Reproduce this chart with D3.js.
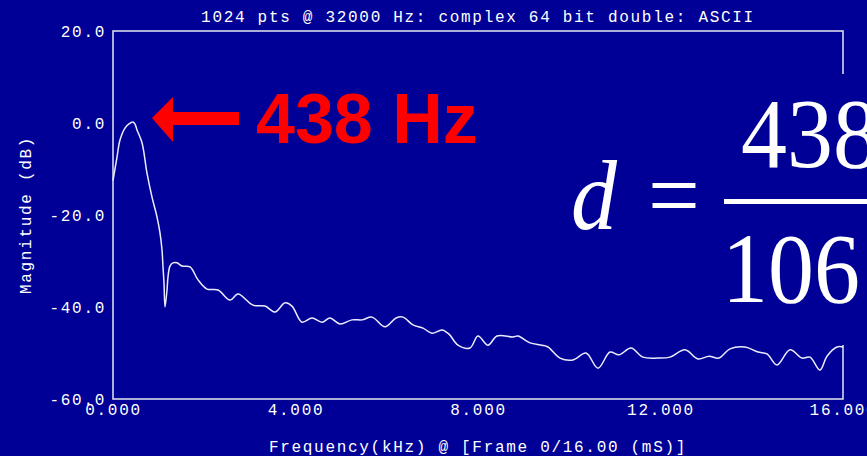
<!DOCTYPE html>
<html>
<head>
<meta charset="utf-8">
<script src="https://cdn.jsdelivr.net/npm/d3@7"></script>
<style>
  html, body { margin: 0; padding: 0; background: #000096; overflow: hidden; }
  svg { display: block; }
  .mono { font-family: "Liberation Mono", "DejaVu Sans Mono", monospace; font-size: 16px; letter-spacing: 1.7px; fill: #ffffff; }
</style>
</head>
<body>
<svg id="chart" width="867" height="456"></svg>
<script>
// Spectrum: frequency (kHz) and magnitude (dB)
const freqKHz = [0.0, 0.088, 0.153, 0.263, 0.35, 0.438, 0.48, 0.526, 0.636, 0.745, 0.855, 0.964, 1.03, 1.074, 1.096, 1.118, 1.14, 1.184, 1.205, 1.249, 1.315, 1.403, 1.512, 1.688, 1.863, 2.06, 2.301, 2.564, 2.74, 3.068, 3.332, 3.551, 3.77, 3.923, 4.142, 4.362, 4.581, 4.756, 4.975, 5.238, 5.458, 5.677, 5.962, 6.203, 6.356, 6.575, 6.795, 6.992, 7.211, 7.364, 7.562, 7.825, 8.0, 8.219, 8.416, 8.767, 8.877, 9.14, 9.403, 9.534, 9.797, 10.082, 10.367, 10.63, 10.893, 11.09, 11.353, 11.616, 11.945, 12.208, 12.537, 12.822, 13.063, 13.282, 13.523, 13.852, 14.137, 14.334, 14.553, 14.838, 15.101, 15.277, 15.496, 15.649, 15.868, 16.0];
const magDB = [-12.5, -7.4, -3.7, -1.1, -0.2, 0.2, -0.2, -1.5, -4.3, -10.9, -16.1, -20.4, -23.9, -27.6, -31.3, -34.8, -40.0, -36.3, -33.5, -31.1, -30.4, -30.4, -31.1, -31.3, -34.1, -36.1, -36.3, -38.5, -37.2, -39.6, -39.8, -41.1, -39.1, -39.8, -43.3, -42.4, -43.3, -42.4, -43.7, -42.8, -42.8, -42.2, -44.3, -42.4, -42.2, -43.9, -44.6, -45.7, -45.0, -45.9, -48.3, -48.9, -46.3, -48.3, -46.3, -46.5, -46.3, -47.8, -48.3, -48.7, -51.1, -51.5, -50.0, -53.3, -49.8, -50.4, -48.9, -50.9, -51.1, -50.9, -49.3, -51.3, -50.7, -51.1, -49.1, -48.7, -49.8, -50.2, -52.6, -49.3, -51.1, -50.9, -53.7, -50.7, -48.7, -48.7];

// Axis ticks
const xTicks = [0, 4, 8, 12, 16];
const yTicks = [-60, -40, -20, 0, 20];

// Text
const titleText = "1024 pts @ 32000 Hz: complex 64 bit double: ASCII";
const xLabelText = "Frequency(kHz) @ [Frame 0/16.00 (mS)]";
const yLabelText = "Magnitude (dB)";
const peakLabel = "438 Hz";
const peakHz = 438;
const fracNumerator = "438";
const fracDenominator = "106";

const bg = "#000096";
const svg = d3.select("#chart");
const margin = { left: 113, top: 31, right: 24, bottom: 57 };
const W = 867, H = 456;

const x = d3.scaleLinear().domain([0, 16]).range([margin.left, W - margin.right]);
const y = d3.scaleLinear().domain([-60, 20]).range([H - margin.bottom, margin.top]);

svg.append("rect").attr("width", W).attr("height", H).attr("fill", bg);

// Plot frame
svg.append("rect")
  .attr("x", x(0)).attr("y", y(20))
  .attr("width", x(16) - x(0)).attr("height", y(-60) - y(20))
  .attr("fill", "none").attr("stroke", "#e6e6f0").attr("stroke-width", 1.5);

// Axes (labels only)
const xAxis = svg.append("g")
  .attr("transform", `translate(0,${y(-60)})`)
  .call(d3.axisBottom(x).tickValues(xTicks).tickSize(0).tickPadding(5).tickFormat(d => d.toFixed(3)));
const yAxis = svg.append("g")
  .attr("transform", `translate(${x(0) - 7},0)`)
  .call(d3.axisLeft(y).tickValues(yTicks).tickSize(0).tickPadding(0).tickFormat(d => d.toFixed(1)));
[xAxis, yAxis].forEach(g => {
  g.select(".domain").remove();
  g.selectAll("text").attr("class", "mono").attr("fill", "#fff");
  g.attr("font-family", null).attr("font-size", null);
});

// Spectrum line
const pts = d3.zip(freqKHz, magDB);
svg.append("path")
  .datum(pts)
  .attr("fill", "none")
  .attr("stroke", "#ececff")
  .attr("stroke-width", 1.5)
  .attr("d", d3.line().x(d => x(d[0])).y(d => y(d[1])).curve(d3.curveCatmullRom.alpha(0.5)));

// Titles
svg.append("text").attr("class", "mono")
  .attr("x", (x(0) + x(16)) / 2).attr("y", 22).attr("text-anchor", "middle").text(titleText);
svg.append("text").attr("class", "mono")
  .attr("x", (x(0) + x(16)) / 2).attr("y", 452).attr("text-anchor", "middle").text(xLabelText);
svg.append("text").attr("class", "mono")
  .attr("transform", `translate(31,${(y(20) + y(-60)) / 2}) rotate(-90)`)
  .attr("text-anchor", "middle").text(yLabelText);

// Peak annotation: arrow pointing at the peak, then the label
const peakX = x(peakHz / 1000);
const tipX = peakX + 19, tipY = y(0) - 5;
svg.append("path")
  .attr("fill", "#ff0000")
  .attr("d", `M${tipX},${tipY} L${tipX + 21},${tipY - 21} L${tipX + 21},${tipY - 6} L${tipX + 87},${tipY - 6}
              L${tipX + 87},${tipY + 7} L${tipX + 21},${tipY + 7} L${tipX + 21},${tipY + 24} Z`);
svg.append("text")
  .attr("x", 256).attr("y", 143)
  .attr("fill", "#ff0000")
  .style("font-family", "'Liberation Sans', Arial, sans-serif")
  .style("font-weight", "bold").style("font-size", "70px")
  .text(peakLabel);

// Formula panel
const f = svg.append("g");
f.append("rect").attr("x", 548).attr("y", 74).attr("width", 330).attr("height", 271).attr("fill", bg);
const serif = "'Liberation Serif', 'Times New Roman', serif";
f.append("text")
  .attr("transform", "translate(571,229) scale(0.92,1)")
  .attr("fill", "#fff").style("font-family", serif).style("font-style", "italic").style("font-size", "100px")
  .text("d");
f.append("text")
  .attr("transform", "translate(648,229) scale(0.92,1)")
  .attr("fill", "#fff").style("font-family", serif).style("font-size", "100px")
  .text("=");
f.append("rect").attr("x", 724).attr("y", 199).attr("width", 150).attr("height", 5).attr("fill", "#fff");
f.append("text")
  .attr("transform", "translate(741,167) scale(0.92,1)")
  .attr("fill", "#fff").style("font-family", serif).style("font-size", "100px")
  .text(fracNumerator);
f.append("text")
  .attr("transform", "translate(722,302) scale(0.92,1)")
  .attr("fill", "#fff").style("font-family", serif).style("font-size", "100px")
  .text(fracDenominator);
</script>
</body>
</html>
